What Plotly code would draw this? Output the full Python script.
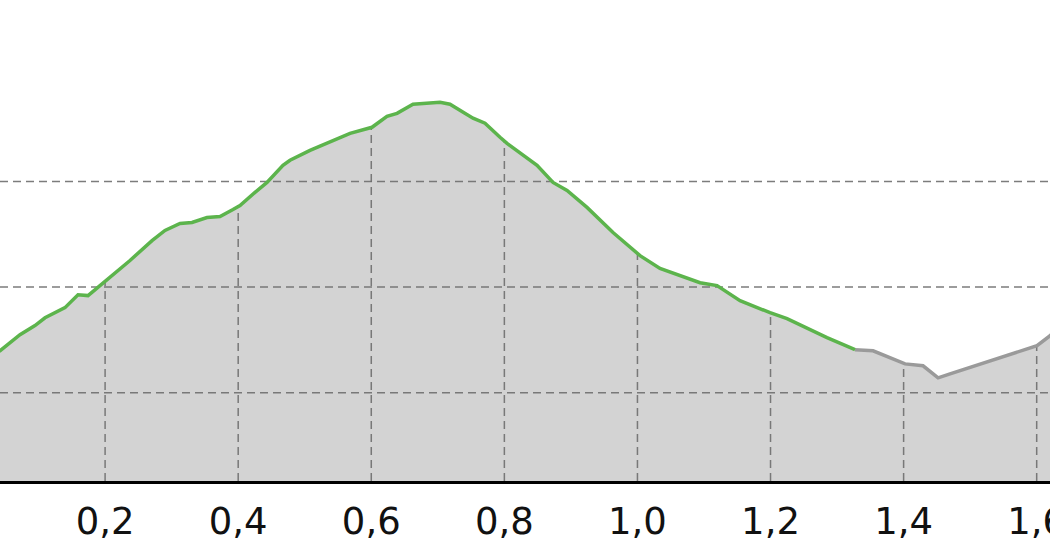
import numpy as np
import plotly.graph_objects as go

# distance (km) and elevation (m)
distance_km = [0.0270, 0.0421, 0.0721, 0.0946, 0.1097, 0.1397, 0.1593, 0.1743, 0.1923, 0.2194,
               0.2374, 0.2705, 0.2900, 0.3126, 0.3306, 0.3531, 0.3727, 0.3922, 0.4027, 0.4253,
               0.4433, 0.4673, 0.4779, 0.5079, 0.5335, 0.5681, 0.6011, 0.6236, 0.6387, 0.6627,
               0.7033, 0.7183, 0.7529, 0.7709, 0.7935, 0.8040, 0.8491, 0.8731, 0.8942, 0.9242,
               0.9633, 1.0039, 1.0339, 1.0640, 1.0941, 1.1196, 1.1542, 1.1993, 1.2248, 1.2849,
               1.3270, 1.3541, 1.4022, 1.4292, 1.4518, 1.4698, 1.6005, 1.6201, 1.6351]
elevation_m = [417.1, 419.9, 427.5, 431.8, 435.5, 440.3, 446.4, 446.0, 450.7, 457.8,
               462.6, 472.0, 476.8, 480.1, 480.6, 482.9, 483.4, 486.7, 488.6, 494.8,
               499.5, 507.6, 510.0, 514.7, 518.0, 522.7, 525.6, 530.8, 532.2, 536.5,
               537.4, 536.5, 529.9, 527.5, 520.9, 518.0, 507.6, 499.5, 495.7, 487.7,
               475.8, 464.9, 458.8, 455.5, 452.1, 450.7, 443.6, 437.9, 435.1, 426.1,
               420.4, 419.9, 413.7, 412.8, 407.1, 409.0, 422.3, 427.0, 431.8]
highlight_end_km = 1.3270
x_ticks = [0.2, 0.4, 0.6, 0.8, 1.0, 1.2, 1.4, 1.6]
y_grid = [400, 450, 500]
x_range = [0.04205, 1.6200]
y_range = [358.3, 585.8]

d = np.array(distance_km)
e = np.array(elevation_m)
hi = d <= highlight_end_km + 1e-9
rest = d >= highlight_end_km - 1e-9

GRID = "rgba(110,110,110,0.9)"
DASH = "8px,5px"

fig = go.Figure()
fig.add_trace(go.Scatter(x=d, y=e, mode="lines", line=dict(width=0),
                         fill="tozeroy", fillcolor="#d3d3d3", hoverinfo="skip"))
# drop lines at ticks
vx, vy = [], []
for t in x_ticks:
    vx += [t, t, None]
    vy += [y_range[0], float(np.interp(t, d, e)), None]
fig.add_trace(go.Scatter(x=vx, y=vy, mode="lines",
                         line=dict(color=GRID, width=1.5, dash=DASH), hoverinfo="skip"))
# horizontal gridlines
hx, hy = [], []
for g in y_grid:
    hx += [x_range[0], x_range[1], None]
    hy += [g, g, None]
fig.add_trace(go.Scatter(x=hx, y=hy, mode="lines",
                         line=dict(color=GRID, width=1.5, dash=DASH), hoverinfo="skip"))
fig.add_trace(go.Scatter(x=d[rest], y=e[rest], mode="lines",
                         line=dict(color="#9a9a9a", width=3.5), hoverinfo="skip"))
fig.add_trace(go.Scatter(x=d[hi], y=e[hi], mode="lines",
                         line=dict(color="#5cb44c", width=3.5), hoverinfo="skip"))

fig.update_layout(
    width=1050, height=560,
    margin=dict(l=0, r=0, t=0, b=79, autoexpand=False),
    paper_bgcolor="white", plot_bgcolor="white",
    showlegend=False,
    separators=", ",
    font=dict(family="DejaVu Sans", size=37, color="#111111"),
    xaxis=dict(range=x_range, tickvals=x_ticks, tickformat=".1f", showgrid=False,
               zeroline=False, showline=True, linecolor="black", linewidth=3,
               ticks="", ticklabelstandoff=6, automargin=False,
               ticklabeloverflow="allow"),
    yaxis=dict(range=y_range, showgrid=False, zeroline=False, showticklabels=False,
               showline=False, automargin=False),
)
fig.write_html("out.html", config={"displayModeBar": False},
               post_script="document.body.style.margin='0';document.body.style.overflow='hidden';")
